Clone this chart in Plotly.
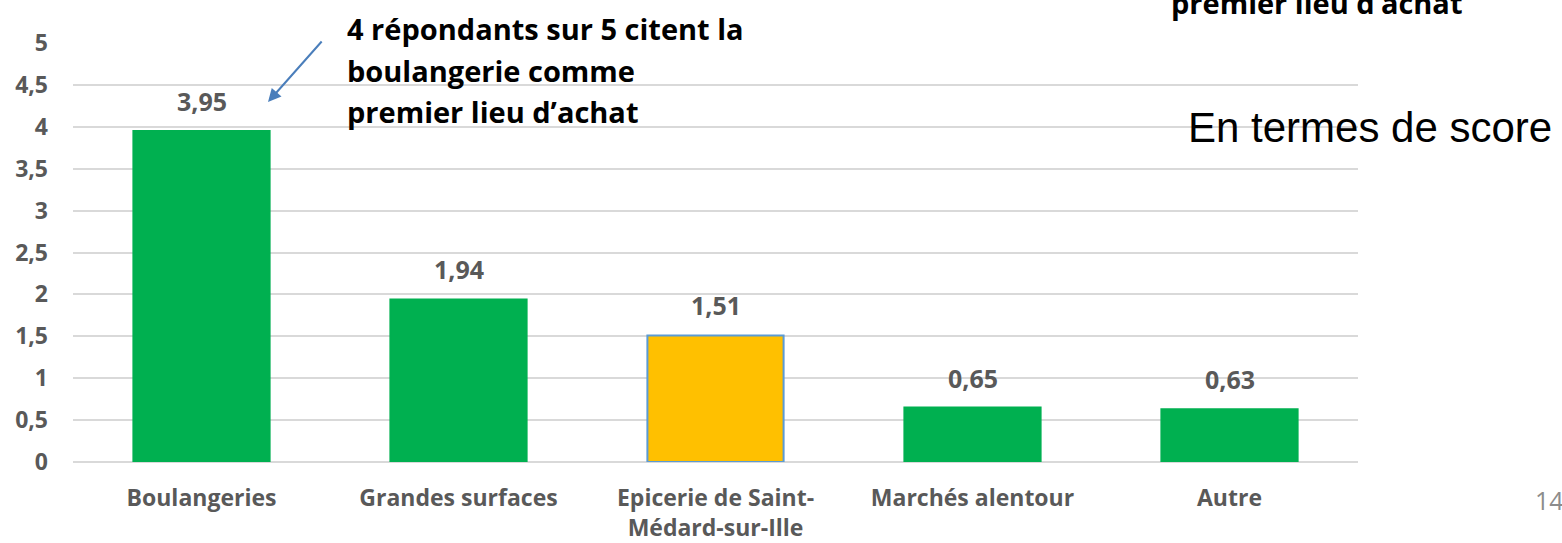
import plotly.graph_objects as go

categories = ["Boulangeries", "Grandes surfaces", "Epicerie de Saint-<br>Médard-sur-Ille", "Marchés alentour", "Autre"]
scores = [3.95, 1.94, 1.51, 0.65, 0.63]
bar_colors = ["#00b050", "#00b050", "#ffc000", "#00b050", "#00b050"]
line_colors = ["#00b050", "#00b050", "#5b9bd5", "#00b050", "#00b050"]
y_ticks = [0, 0.5, 1, 1.5, 2, 2.5, 3, 3.5, 4, 4.5, 5]

FONT = "Open Sans"
GRAY = "#595959"

fig = go.Figure()
fig.add_trace(go.Bar(
    x=categories, y=scores,
    marker=dict(color=bar_colors, line=dict(color=line_colors, width=2)),
    width=0.53,
    hoverinfo="skip",
))

annotations = []
for c, v in zip(categories, scores):
    annotations.append(dict(
        x=c, y=v, xref="x", yref="y",
        text=f"<b>{v:.2f}</b>".replace(".", ","),
        showarrow=False, yshift=30, yanchor="middle",
        font=dict(family=FONT, size=25, color=GRAY),
    ))

callout = ["4 répondants sur 5 citent la", "boulangerie comme", "premier lieu d’achat"]
for i, line in enumerate(callout):
    annotations.append(dict(
        x=345, y=543 - 28 - 42 * i, xref="paper", yref="paper",
        text=f"<b>{line}</b>", showarrow=False, xanchor="left", yanchor="middle",
        font=dict(family=FONT, size=29, color="black"),
    ))

# cropped text at the top right
annotations.append(dict(
    x=1316, y=543 - 2, xref="paper", yref="paper",
    text="<b>premier lieu d’achat</b>", showarrow=False, xanchor="center", yanchor="middle",
    font=dict(family=FONT, size=29, color="black"),
))

annotations.append(dict(
    x=1186, y=543 - 127, xref="paper", yref="paper",
    text="En termes de score", showarrow=False, xanchor="left", yanchor="middle",
    font=dict(family="Liberation Sans", size=42, color="black"),
))

annotations.append(dict(
    x=1533, y=543 - 500, xref="paper", yref="paper",
    text="14", showarrow=False, xanchor="left", yanchor="middle",
    font=dict(family=FONT, size=25, color="#8c8c8c"),
))

# arrow (head position in paper pixels, tail offset in pixels)
annotations.append(dict(
    x=268, y=543 - 102, ax=55, ay=-62,
    xref="paper", yref="paper", axref="pixel", ayref="pixel",
    text="", showarrow=True, arrowhead=2, arrowsize=1.3, arrowwidth=2,
    arrowcolor="#4a7ebb",
))

# convert pixel paper coords to paper fractions
L, R, T, B = 73, 204, 43, 81
W, H = 1562, 543
pw, ph = W - L - R, H - T - B
for a in annotations:
    if a.get("xref") == "paper":
        a["x"] = (a["x"] - L) / pw
        a["y"] = (a["y"] - B) / ph

fig.update_layout(
    width=W, height=H,
    margin=dict(l=L, r=R, t=T, b=B, pad=0, autoexpand=False),
    plot_bgcolor="white", paper_bgcolor="white",
    separators=", ",
    showlegend=False,
    bargap=0.47,
    annotations=annotations,
    xaxis=dict(
        showgrid=False, showline=False, ticks="", automargin=False,
        tickfont=dict(family=FONT, size=23, color=GRAY, weight="bold"),
        ticklabelstandoff=20,
    ),
    yaxis=dict(
        range=[0, 5], tickvals=y_ticks, automargin=False,
        showgrid=True, gridcolor="#d9d9d9", gridwidth=2,
        zeroline=True, zerolinecolor="#d9d9d9", zerolinewidth=2,
        showline=False, ticks="",
        tickfont=dict(family=FONT, size=23, color=GRAY, weight="bold"),
        ticklabelstandoff=24,
    ),
)

fig.write_html(
    "out.html",
    config={"displayModeBar": False},
    post_script="document.body.style.margin='0';document.body.style.overflow='hidden';",
)
